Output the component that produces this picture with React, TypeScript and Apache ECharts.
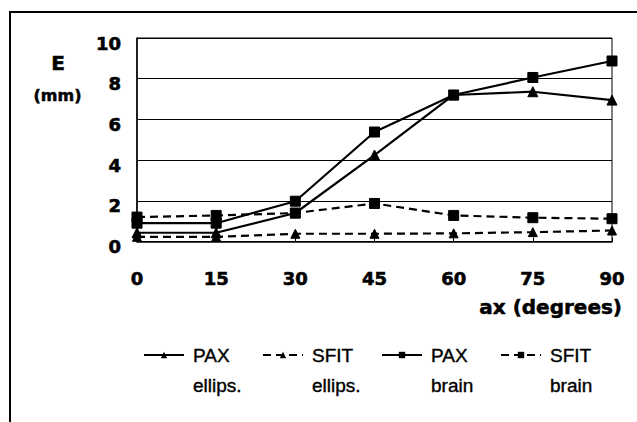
import React, { useEffect, useRef } from "react";
import * as echarts from "echarts";

const angles = [0, 15, 30, 45, 60, 75, 90];
const paxEllips = [0.43, 0.43, 1.4, 4.25, 7.2, 7.36, 6.95];
const sfitEllips = [0.23, 0.23, 0.38, 0.38, 0.4, 0.46, 0.54];
const paxBrain = [0.9, 0.9, 1.98, 5.38, 7.2, 8.06, 8.87];
const sfitBrain = [1.2, 1.28, 1.4, 1.87, 1.28, 1.17, 1.12];
const seriesNames = ["PAX\nellips.", "SFIT\nellips.", "PAX\nbrain", "SFIT\nbrain"];

const HEAVY = "'DejaVu Sans', 'Liberation Sans', sans-serif";
const LEG = "'Liberation Sans', Arial, sans-serif";

export default function App() {
  const ref = useRef<HTMLDivElement>(null);
  useEffect(() => {
    const chart = echarts.init(ref.current!, null, { renderer: "svg" });
    const pair = (ys: number[]) => angles.map((a, i) => [a, ys[i]]);
    const mk = (name: string, ys: number[], dashed: boolean, symbol: string, size: number) => ({
      name,
      type: "line",
      data: pair(ys),
      symbol,
      symbolSize: size,
      lineStyle: { color: "#000", width: 2.2, type: dashed ? [8, 5] : "solid" },
      itemStyle: { color: "#000", borderColor: "#000" },
    });
    chart.setOption({
      animation: false,
      backgroundColor: "#fff",
      grid: { left: 137, top: 38, right: 25, bottom: 180.5, show: true, borderColor: "#000", borderWidth: 1 },
      xAxis: {
        type: "value",
        min: 0,
        max: 90,
        interval: 15,
        axisLine: { lineStyle: { color: "#000", width: 1.5 } },
        axisTick: { inside: true, length: 4, lineStyle: { color: "#000" } },
        splitLine: { show: false },
        axisLabel: {
          color: "#000",
          fontFamily: HEAVY,
          fontWeight: "bold",
          fontSize: 18,
          lineHeight: 20,
          margin: 27,
          textBorderColor: "#000",
          textBorderWidth: 0.6,
        },
      },
      yAxis: {
        type: "value",
        min: 0,
        max: 10,
        interval: 2,
        axisLine: { show: true, lineStyle: { color: "#000", width: 1.5 } },
        axisTick: { show: false },
        splitLine: { lineStyle: { color: "#000", width: 1.2 } },
        axisLabel: {
          color: "#000",
          fontFamily: HEAVY,
          fontWeight: "bold",
          fontSize: 18,
          margin: 16,
          verticalAlign: "top",
          lineHeight: 10,
          textBorderColor: "#000",
          textBorderWidth: 0.6,
        },
      },
      legend: {
        left: 138,
        top: 305,
        itemWidth: 40,
        itemHeight: 8,
        itemGap: 17,
        data: seriesNames,
        formatter: "\n{name}",
        textStyle: {
          color: "#000",
          fontFamily: LEG,
          fontSize: 19,
          lineHeight: 30,
          width: 52,
          padding: [0, 0, 0, 4],
          textBorderColor: "#000",
          textBorderWidth: 0.4,
        },
      },
      graphic: [
        {
          type: "rect",
          shape: { x: 10, y: 12, width: 640, height: 430 },
          style: { fill: "none", stroke: "#000", lineWidth: 2 },
          silent: true,
        },
        {
          type: "text",
          x: 58,
          y: 62.5,
          style: {
            text: "E",
            font: `bold 20px ${HEAVY}`,
            fill: "#000",
            stroke: "#000",
            lineWidth: 0.6,
            align: "center",
            verticalAlign: "middle",
          },
        },
        {
          type: "text",
          x: 57.5,
          y: 95,
          style: {
            text: "(mm)",
            font: `bold 16px ${HEAVY}`,
            fill: "#000",
            stroke: "#000",
            lineWidth: 0.5,
            align: "center",
            verticalAlign: "middle",
          },
        },
        {
          type: "text",
          x: 622,
          y: 307,
          style: {
            text: "ax (degrees)",
            font: `bold 20px ${HEAVY}`,
            fill: "#000",
            stroke: "#000",
            lineWidth: 0.5,
            align: "right",
            verticalAlign: "middle",
          },
        },
      ],
      series: [
        mk(seriesNames[0], paxEllips, false, "triangle", 10),
        mk(seriesNames[1], sfitEllips, true, "triangle", 9),
        mk(seriesNames[2], paxBrain, false, "rect", 10),
        mk(seriesNames[3], sfitBrain, true, "rect", 10),
      ],
    });
    return () => chart.dispose();
  }, []);
  return <div ref={ref} style={{ position: "fixed", left: 0, top: 0, width: 637, height: 422 }} />;
}
